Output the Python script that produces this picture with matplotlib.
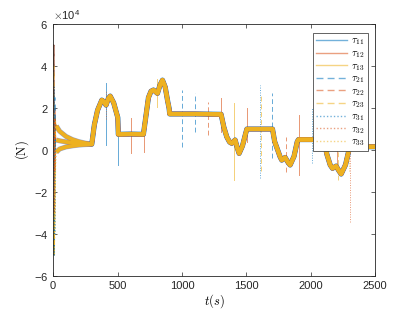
import numpy as np
import matplotlib.pyplot as plt

plt.rcParams['font.family'] = ['Liberation Sans', 'DejaVu Sans']
plt.rcParams['mathtext.fontset'] = 'cm'
plt.rcParams['axes.unicode_minus'] = False

# values below are in units of 1e4 N
scale = 1e4

# start-up transient, t = 0..20 s, one list per signal (rows i, columns j)
t_init = [0, 4, 8, 12, 16, 20]
v_init = {
    (1, 1): [0.0, 1.6, -0.8, 1.4, 1.0, 1.2],
    (1, 2): [0.0, 5.0, -2.7, 2.0, 0.6, 1.2],
    (1, 3): [0.0, 1.0, -5.0, -3.0, 1.5, 1.2],
    (2, 1): [0.0, 5.0, -5.0, 2.5, 0.2, 0.5],
    (2, 2): [0.0, 5.0, -2.0, 1.5, 0.8, 0.5],
    (2, 3): [0.0, 4.0, -4.5, -2.0, 1.0, 0.5],
    (3, 1): [0.0, -2.0, 3.0, -4.0, 0.5, -0.1],
    (3, 2): [0.0, 3.0, -3.0, 1.5, -1.0, -0.1],
    (3, 3): [0.0, -1.0, -5.0, -4.0, -2.0, -0.1],
}

# three branches that settle together by t = 300 s
t_branch = [25, 50, 100, 150, 200, 250, 300]
v_branch = {
    1: [1.15, 0.9, 0.65, 0.5, 0.4, 0.33, 0.28],
    2: [0.48, 0.44, 0.39, 0.35, 0.32, 0.3, 0.28],
    3: [-0.1, 0.05, 0.15, 0.2, 0.24, 0.26, 0.28],
}

# common trajectory after t = 300 s
t_common = [320, 345, 378, 395, 411, 428, 443, 470, 495, 502, 506, 600, 701,
            720, 740, 760, 779, 810, 830, 849, 870, 890, 900, 905, 1100, 1304,
            1325, 1348, 1370, 1387, 1413, 1430, 1444, 1470, 1495, 1504, 1600, 1703,
            1720, 1762, 1775, 1801, 1820, 1840, 1870, 1895, 1905, 2000, 2104,
            2125, 2151, 2169, 2197, 2220, 2236, 2270, 2300, 2306, 2400, 2500]
v_common = [1.2, 1.9, 2.38, 2.3, 2.14, 2.45, 2.57, 2.25, 1.7, 1.55, 0.75, 0.76, 0.75,
            1.6, 2.5, 2.8, 2.86, 2.7, 3.1, 3.33, 3.0, 2.3, 2.0, 1.72, 1.72, 1.7,
            1.1, 0.63, 0.38, 0.32, 0.48, 0.1, -0.16, 0.2, 0.8, 1.0, 1.0, 1.0,
            0.4, -0.32, -0.48, -0.35, -0.55, -0.71, -0.3, 0.4, 0.5, 0.5, 0.5,
            -0.2, -0.71, -0.87, -0.76, -1.0, -1.14, -0.7, 0.1, 0.16, 0.16, 0.16]

# short spikes: signal -> list of (t, top, bottom)
spikes = {
    (1, 1): [(409, 3.2, 0.24), (507, 1.78, -0.71)],
    (1, 2): [(603, 1.52, -0.16), (707, 1.43, -0.08), (1304, 2.46, 0.87),
             (1504, 1.98, 0.4), (1905, 1.67, -1.19), (2203, 0.32, -0.87)],
    (1, 3): [(805, 3.4, 2.06), (1405, 2.22, -1.43)],
    (2, 1): [(1004, 2.86, 0.16), (1105, 2.7, 0.87), (1703, 2.7, -0.4)],
    (2, 2): [(1206, 2.3, 0.71), (1807, 0.63, -1.03)],
    (2, 3): [(2210, 0.2, -1.43), (1610, 2.6, -1.0)],
    (3, 1): [(1605, 3.1, -1.35), (2008, 1.98, -0.63)],
    (3, 2): [(2306, 0.79, -3.41), (411, 2.8, 1.5)],
    (3, 3): [(2300, 1.2, -1.0)],
}

colors = {1: '#0072BD', 2: '#D95319', 3: '#EDB120'}
styles = {1: '-', 2: (0, (5, 3)), 3: (0, (1, 1.5))}
halo_w = {1: 3.7, 2: 3.2, 3: 2.7}
halo_a = {1: 0.35, 2: 0.5, 3: 1.0}

fig = plt.figure(figsize=(4.15, 3.12), dpi=100)
ax = fig.add_axes([0.128, 0.115, 0.776, 0.808])

# thin styled lines underneath, thick bands (noise envelope) over them
for i in (1, 2, 3):
    for j in (1, 2, 3):
        t = t_init + t_branch + t_common
        v = np.array(v_init[(i, j)] + v_branch[i] + v_common) * scale
        ax.plot(t, v, color=colors[j], ls=styles[i], lw=0.9, alpha=0.85,
                zorder=2, label=r'$\tau_{%d%d}$' % (i, j))
        for ts, top, bot in spikes[(i, j)]:
            ax.plot([ts, ts], [bot * scale, top * scale], color=colors[j],
                    ls=styles[i], lw=0.7, alpha=0.6, zorder=2)

for j in (1, 2, 3):
    for i in (1, 2, 3):
        tb = t_branch + t_common
        vb = np.array(v_branch[i] + v_common) * scale
        ax.plot(tb, vb, color=colors[j], lw=halo_w[j], alpha=halo_a[j],
                solid_capstyle='butt', zorder=3 + j)

ax.set_xlim(0, 2500)
ax.set_ylim(-6e4, 6e4)
ax.set_xticks([0, 500, 1000, 1500, 2000, 2500])
ax.set_yticks(np.arange(-6, 7, 2) * scale)
ax.ticklabel_format(axis='y', style='sci', scilimits=(0, 0), useMathText=True)
ax.yaxis.get_offset_text().set_fontsize(8)
ax.tick_params(direction='in', length=3, width=0.5, top=True, right=True,
               labelsize=8, colors='#262626')
for s in ax.spines.values():
    s.set_linewidth(0.6)
    s.set_color('#262626')

ax.set_xlabel(r'$t(s)$', fontsize=9, labelpad=1)
ax.set_ylabel(r'$\mathrm{(N)}$', fontsize=9, labelpad=2)

leg = ax.legend(loc='upper right', fontsize=7.5, handlelength=3.0,
                labelspacing=0.08, borderpad=0.3, handletextpad=0.4,
                fancybox=False, framealpha=1, edgecolor='#262626',
                bbox_to_anchor=(0.994, 0.987))
leg.get_frame().set_linewidth(0.5)
leg.set_zorder(10)
for ln in leg.get_lines():
    ln.set_alpha(0.55)
    ln.set_linewidth(1.0)

fig.savefig('out.png', dpi=100)
